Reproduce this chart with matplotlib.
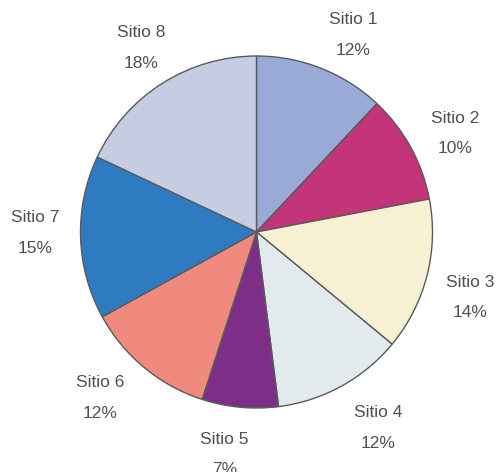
import matplotlib
matplotlib.use("Agg")
import matplotlib.pyplot as plt

sitios = ["Sitio 1", "Sitio 2", "Sitio 3", "Sitio 4", "Sitio 5", "Sitio 6", "Sitio 7", "Sitio 8"]
porcentajes = [12, 10, 14, 12, 7, 12, 15, 18]
colores = ["#9aaad6", "#c43478", "#f7f1d3", "#e3eaee", "#7d2f88", "#f08a7e", "#2f7bc2", "#c6cde3"]

# small label nudges in pixels (right, down)
ajustes = [(14, 11), (3, 9), (-3, 10), (14, 0), (-11, 0), (-14, -6), (2, -6), (4, 5)]

fig = plt.figure(figsize=(4.99, 4.72), dpi=100)
# pie centred at (256, 232) px with radius ~176 px
r_px = 176.0
lim = 1.4
size = 2 * lim * r_px
ax = fig.add_axes([(256.5 - size / 2) / 499, (472 - 232 - size / 2) / 472, size / 499, size / 472])

etiquetas = [s + "\n" + str(p) + "%" for s, p in zip(sitios, porcentajes)]
wedges, texts = ax.pie(porcentajes, labels=etiquetas, colors=colores, startangle=90,
                       counterclock=False, labeldistance=1.27,
                       wedgeprops=dict(edgecolor="#5a5a5a", linewidth=1.0),
                       textprops=dict(fontsize=12.5, color="#505050", family="Liberation Sans",
                                      linespacing=2.3))
for t, (dx, dy) in zip(texts, ajustes):
    x, y = t.get_position()
    t.set_position((x + dx / r_px, y - dy / r_px))
    t.set_horizontalalignment("center")
    t.set_verticalalignment("center")

ax.set_xlim(-lim, lim)
ax.set_ylim(-lim, lim)
ax.axis("off")

fig.savefig("out.png", dpi=100)
